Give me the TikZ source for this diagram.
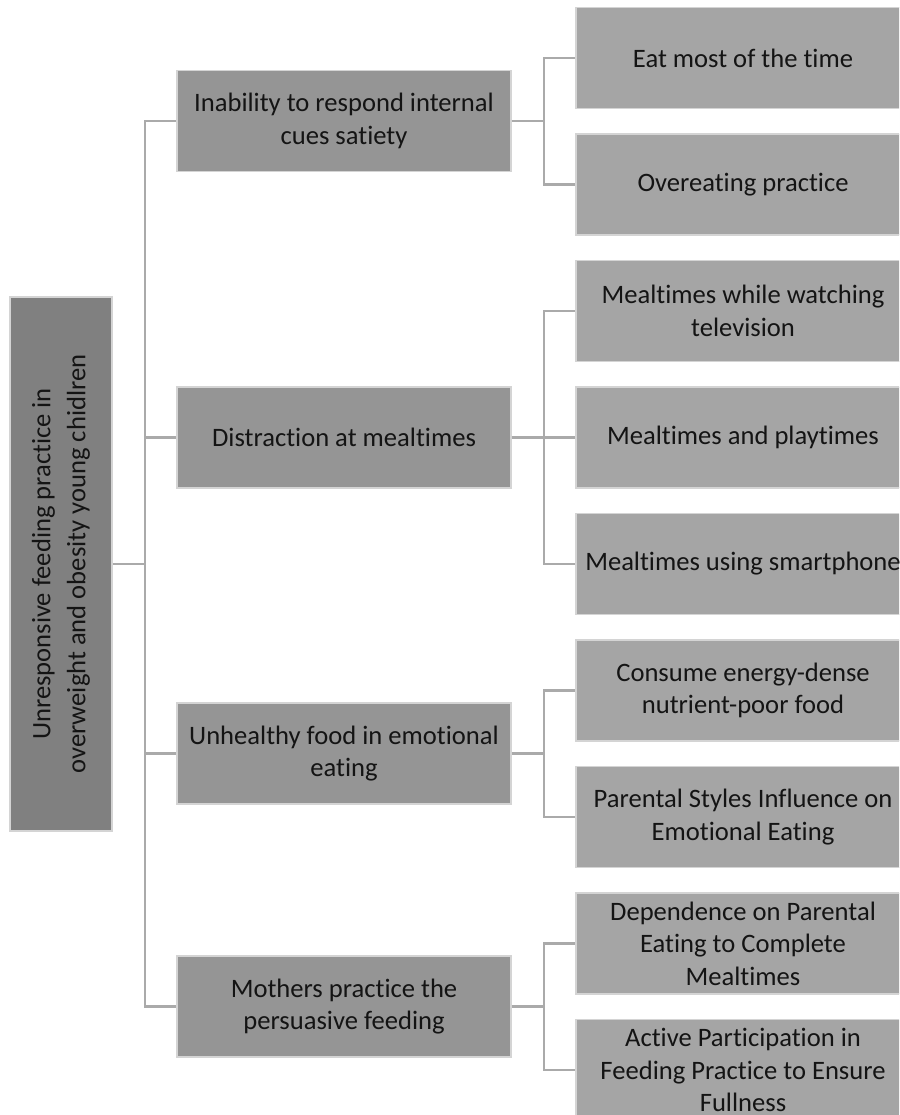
\documentclass[tikz,border=0pt]{standalone}
\usepackage{fontspec}
\setmainfont{Carlito}[Ligatures={NoCommon}]
\definecolor{rootfill}{HTML}{808080}
\definecolor{onefill}{HTML}{959595}
\definecolor{twofill}{HTML}{A5A5A5}
\definecolor{edgecol}{HTML}{D4D4D4}
\definecolor{linecol}{HTML}{AAAAAA}
\definecolor{txtcol}{HTML}{141414}
\tikzset{
  box/.style={draw=edgecol, line width=1.5pt, inner sep=0pt, align=center,
    text=txtcol, font=\fontsize{26.6}{32.5}\selectfont},
  rootbox/.style={box, fill=rootfill, rotate=90, minimum width=534pt, minimum height=102pt,
    font=\fontsize{26.6}{35}\selectfont},
  onebox/.style={box, fill=onefill, minimum width=334pt, minimum height=101pt},
  twobox/.style={box, fill=twofill, minimum width=334pt, minimum height=101pt},
  conn/.style={draw=linecol, line width=2.2pt}
}
\begin{document}
\begin{tikzpicture}[x=1pt,y=-1pt]
\useasboundingbox (0,0) rectangle (899,1115);
\clip (0,0) rectangle (899,1115);
\fill[white] (0,0) rectangle (899,1115);

\coordinate (trunk) at (145,564);
\node[rootbox] (root) at (61,564) {Unresponsive feeding practice in\\overweight and obesity young chidlren};

\node[onebox] (a) at (344,121) {Inability to respond internal\\cues satiety};
\node[onebox] (b) at (344,437.5) {Distraction at mealtimes};
\node[onebox] (c) at (344,753.5) {Unhealthy food in emotional\\eating};
\node[onebox] (d) at (344,1006.5) {Mothers practice the\\persuasive feeding};

\node[twobox] (a1) at (743,58) {Eat most of the time};
\node[twobox] (a2) at (743,184.5) {Overeating practice};
\node[twobox] (b1) at (743,311) {Mealtimes while watching\\television};
\node[twobox] (b2) at (743,437.5) {Mealtimes and playtimes};
\node[twobox] (b3) at (743,564) {Mealtimes using smartphone};
\node[twobox] (c1) at (743,690.5) {Consume energy-dense\\nutrient-poor food};
\node[twobox] (c2) at (743,817) {Parental Styles Influence on\\Emotional Eating};
\node[twobox] (d1) at (743,943.5) {Dependence on Parental\\Eating to Complete\\Mealtimes};
\node[twobox] (d2) at (743,1070) {Active Participation in\\Feeding Practice to Ensure\\Fullness};

\draw[conn] (root.south) -- (trunk);
\foreach \n in {a,b,c,d}{
  \draw[conn] (trunk) |- (\n.west);
}
\foreach \p/\q in {a/a1,a/a2,b/b1,b/b2,b/b3,c/c1,c/c2,d/d1,d/d2}{
  \draw[conn] (\p.east) -- ++(32,0) |- (\q.west);
}
\end{tikzpicture}
\end{document}
